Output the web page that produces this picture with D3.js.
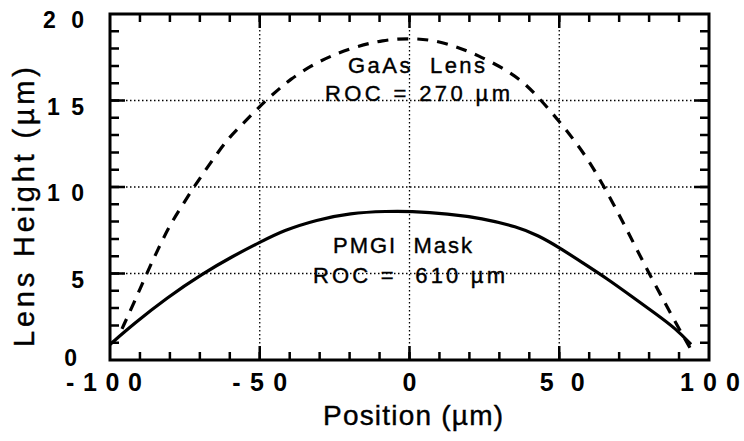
<!DOCTYPE html>
<html>
<head>
<meta charset="utf-8">
<script src="https://cdn.jsdelivr.net/npm/d3@7"></script>
<style>
  body { margin: 0; background: #fff; }
  text { font-family: "Liberation Sans", Arial, Helvetica, sans-serif; fill: #000; }
</style>
</head>
<body>
<script>
// positions (um) and lens heights (axis units)
const gaasX = [-96, -92, -88, -84, -80, -76, -72, -68, -64, -60, -56, -52, -48, -44, -40, -33, -26, -18, -9, 0, 8, 16, 23, 31, 38, 44, 50, 55, 60, 65, 70, 75, 80, 85, 90, 94];
const gaasY = [1.8, 3.3, 4.9, 6.4, 7.8, 8.9, 10.0, 11.0, 12.0, 12.9, 13.6, 14.3, 15.0, 15.6, 16.2, 17.0, 17.6, 18.1, 18.5, 18.6, 18.5, 18.1, 17.6, 16.9, 16.1, 15.0, 13.8, 12.7, 11.5, 10.0, 8.4, 6.7, 5.0, 3.4, 1.8, 0.6];

const pmgiX = [-100, -92, -81, -69, -59, -50, -42, -31, -20, -7, 0, 13, 24, 36, 43, 50, 58, 66, 74, 82, 89, 94];
const pmgiY = [0.9, 2.1, 3.6, 5.0, 6.0, 6.8, 7.5, 8.1, 8.5, 8.6, 8.6, 8.45, 8.2, 7.7, 7.2, 6.5, 5.6, 4.7, 3.7, 2.7, 1.8, 0.9];

const xTickValues = [-100, -50, 0, 50, 100];
const xTickLabels = ["-100", "- 5 0", "0", "5 0", "1 0 0"];
const yTickValues = [0, 5, 10, 15, 20];
const yTickLabels = ["0", "5", "1 0", "1 5", "2 0"];
const gridX = [-50, 0, 50];
const gridY = [5, 10, 15];

// inward tick marks along one side of the box, as one path
function drawTicks(svg, values, pos, edge, len, vertical) {
    const d = values.map(v => vertical
        ? `M${edge},${pos(v)}h${len}`
        : `M${pos(v)},${edge}v${len}`).join('');
    svg.append('path')
        .attr('class', 'tick-marks')
        .attr('d', d)
        .attr('fill', 'none')
        .attr('stroke', '#000')
        .attr('stroke-width', 2.5);
}

function drawGrid(svg, values, pos, from, to, vertical) {
    svg.append('g')
        .selectAll('line')
        .data(values)
        .enter()
        .append('line')
        .attr('x1', d => vertical ? pos(d) : from)
        .attr('x2', d => vertical ? pos(d) : to)
        .attr('y1', d => vertical ? from : pos(d))
        .attr('y2', d => vertical ? to : pos(d))
        .attr('stroke', '#000')
        .attr('stroke-width', 1.3)
        .attr('stroke-dasharray', '1.5,2.5');
}

function renderSVG() {
    // ==================================================
    // 1. size and plot box
    // ==================================================
    const width = 744;
    const height = 441;
    const box = {left: 110, right: 709, top: 14, bottom: 360};

    const scaleX = d3.scaleLinear().domain([-100, 100]).range([box.left, box.right]);
    const scaleY = d3.scaleLinear().domain([0, 20]).range([box.bottom, box.top]);

    const svg = d3.select('body')
        .append('svg')
        .attr('width', width)
        .attr('height', height);

    svg.append('rect')
        .attr('width', width)
        .attr('height', height)
        .attr('fill', '#fff');

    // ==================================================
    // 2. dotted grid
    // ==================================================
    drawGrid(svg, gridX, scaleX, box.top, box.bottom, true);
    drawGrid(svg, gridY, scaleY, box.left, box.right, false);

    // ==================================================
    // 3. the two lens profiles
    // ==================================================
    const line = d3.line()
        .x(d => scaleX(d[0]))
        .y(d => scaleY(d[1]))
        .curve(d3.curveBasis);

    svg.append('path')
        .datum(d3.zip(gaasX, gaasY))
        .attr('d', line)
        .attr('fill', 'none')
        .attr('stroke', '#000')
        .attr('stroke-width', 3.2)
        .attr('stroke-dasharray', '11,9');

    svg.append('path')
        .datum(d3.zip(pmgiX, pmgiY))
        .attr('d', line)
        .attr('fill', 'none')
        .attr('stroke', '#000')
        .attr('stroke-width', 3.2);

    // frame
    svg.append('rect')
        .attr('x', box.left).attr('y', box.top)
        .attr('width', box.right - box.left)
        .attr('height', box.bottom - box.top)
        .attr('fill', 'none')
        .attr('stroke', '#000')
        .attr('stroke-width', 3);

    // ==================================================
    // 4. inward ticks on all four sides
    // ==================================================
    const minorX = d3.range(-90, 100, 10);
    const minorY = d3.range(1, 20, 1);

    drawTicks(svg, minorX, scaleX, box.bottom, -8, false);
    drawTicks(svg, minorX, scaleX, box.top, 8, false);
    drawTicks(svg, gridX, scaleX, box.bottom, -14, false);
    drawTicks(svg, gridX, scaleX, box.top, 14, false);
    drawTicks(svg, minorY, scaleY, box.left, 9, true);
    drawTicks(svg, minorY, scaleY, box.right, -9, true);
    drawTicks(svg, gridY, scaleY, box.left, 15, true);
    drawTicks(svg, gridY, scaleY, box.right, -15, true);

    // ==================================================
    // 5. tick labels
    // ==================================================
    const xLabelWidth = [76, 55, 14, 45, 60];
    const xLabelShift = [-6, 0, 0, 3, 1];
    svg.selectAll('text.x-label')
        .data(xTickValues)
        .enter()
        .append('text')
        .attr('class', 'x-label')
        .attr('x', (d, i) => scaleX(d) + xLabelShift[i])
        .attr('y', 391)
        .attr('text-anchor', 'middle')
        .attr('font-size', '25px')
        .attr('font-weight', 'bold')
        .attr('textLength', (d, i) => xLabelWidth[i])
        .attr('lengthAdjust', 'spacing')
        .text((d, i) => xTickLabels[i]);

    const yLabelWidth = [14, 16, 37, 37, 41];
    svg.selectAll('text.y-label')
        .data(yTickValues)
        .enter()
        .append('text')
        .attr('class', 'y-label')
        .attr('x', d => d === 0 ? 77 : 84)
        .attr('y', d => scaleY(d) + (d === 0 ? 6 : 14))
        .attr('text-anchor', 'end')
        .attr('font-size', '23px')
        .attr('font-weight', 'bold')
        .attr('textLength', (d, i) => yLabelWidth[i])
        .attr('lengthAdjust', 'spacing')
        .text((d, i) => yTickLabels[i]);

    // ==================================================
    // 6. axis titles
    // ==================================================
    svg.append('text')
        .attr('x', 413)
        .attr('y', 425)
        .attr('text-anchor', 'middle')
        .attr('font-size', '28px')
        .attr('stroke', '#000')
        .attr('stroke-width', 0.4)
        .attr('textLength', 180)
        .attr('lengthAdjust', 'spacing')
        .text('Position (\u00b5m)');

    svg.append('text')
        .attr('transform', 'translate(34,207) rotate(-90)')
        .attr('text-anchor', 'middle')
        .attr('font-size', '29px')
        .attr('stroke', '#000')
        .attr('stroke-width', 0.4)
        .attr('textLength', 280)
        .attr('lengthAdjust', 'spacing')
        .text('Lens Height (\u00b5m)');

    // ==================================================
    // 7. curve annotations
    // ==================================================
    const notes = [
        {text: 'GaAs  Lens', x: 348, y: 73, w: 137},
        {text: 'ROC = 270 \u00b5m', x: 325, y: 101, w: 185},
        {text: 'PMGI  Mask', x: 333, y: 253, w: 139},
        {text: 'ROC =  610 \u00b5m', x: 313, y: 283, w: 192}
    ];

    svg.selectAll('text.note')
        .data(notes)
        .enter()
        .append('text')
        .attr('class', 'note')
        .attr('x', d => d.x)
        .attr('y', d => d.y)
        .attr('font-size', '22px')
        .attr('stroke', '#000')
        .attr('stroke-width', 0.4)
        .style('white-space', 'pre')
        .attr('textLength', d => d.w)
        .attr('lengthAdjust', 'spacing')
        .text(d => d.text);
}

window.addEventListener('load', function() {
    requestAnimationFrame(renderSVG);
});
</script>
</body>
</html>
